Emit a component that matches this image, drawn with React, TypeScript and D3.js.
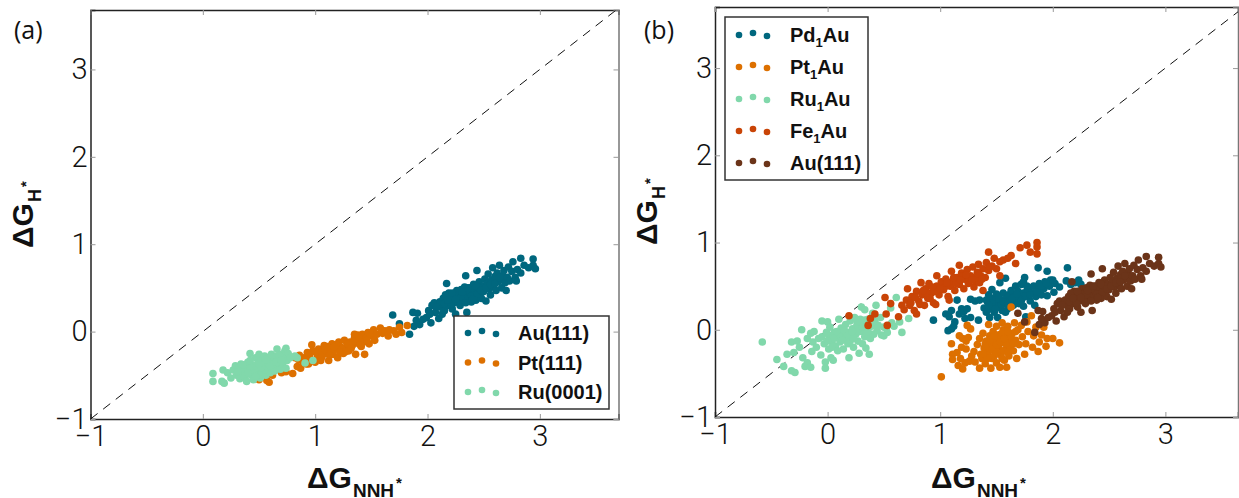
import React, { useEffect, useRef } from 'react';
import * as d3 from 'd3';

type Pt = [number, number];

const xTicks = [-1, 0, 1, 2, 3];
const yTicks = [-1, 0, 1, 2, 3];

const au111: Pt[] = [
  [1.69,.19],[1.75,.09],[1.84,-.03],[1.87,.22],[1.91,.21],[1.88,.06],[1.93,.08],[1.9,.13],[1.96,.14],[2.03,.1],[1.99,.16],[2.01,.24],[2.04,.3],
  [2.07,.22],[2.1,.15],[2.12,.28],[2.06,.33],[2.11,.34],[2.15,.24],[2.17,.55],[2.18,.3],[2.14,.38],[2.2,.36],[2.19,.44],[2.22,.26],[2.23,.4],
  [2.24,.33],[2.26,.47],[2.27,.38],[2.25,.2],[2.28,.43],[2.29,.3],[2.3,.48],[2.31,.36],[2.32,.42],[2.33,.51],[2.34,.64],[2.35,.22],[2.36,.44],
  [2.37,.38],[2.38,.5],[2.39,.34],[2.4,.46],[2.41,.54],[2.42,.42],[2.43,.36],[2.44,.7],[2.45,.49],[2.46,.57],[2.47,.44],[2.48,.38],[2.49,.52],
  [2.5,.46],[2.51,.6],[2.52,.35],[2.53,.55],[2.54,.66],[2.55,.49],[2.56,.42],[2.57,.59],[2.58,.73],[2.59,.52],[2.6,.63],[2.61,.47],[2.62,.67],
  [2.63,.57],[2.64,.76],[2.65,.6],[2.66,.5],[2.67,.64],[2.68,.7],[2.69,.56],[2.7,.47],[2.71,.62],[2.72,.74],[2.73,.58],[2.75,.69],[2.76,.8],
  [2.78,.62],[2.8,.71],[2.79,.58],[2.83,.84],[2.83,.67],[2.86,.76],[2.9,.73],[2.94,.83],[2.94,.76],[2.96,.72],[2.15,.32],[2.21,.31],[2.28,.35],
  [2.33,.39],[2.37,.45],[2.42,.48],[2.26,.41],[2.3,.4],[2.35,.47],[2.39,.41],[2.44,.43],[2.34,.33],[2.46,.5],[2.16,.42],[2.08,.28],[2.02,.2],
  [2.13,.2],[2.18,.36],[2.22,.44],[2.25,.37],[2.31,.45],[2.36,.5],[2.4,.37],[2.43,.52],[2.48,.47],[2.52,.5],[2.56,.54],[2.6,.55],[2.64,.62],
];

const pt111: Pt[] = [
  [.5,-.55],[.59,-.58],[.57,-.56],[.62,-.5],[.7,-.47],[.74,-.46],[.8,-.48],[.84,-.4],[.87,-.42],[.82,-.3],[.85,-.32],[.9,-.3],[.92,-.37],[.95,-.28],
  [.97,-.15],[.98,-.22],[1,-.35],[1.02,-.28],[1.03,-.2],[1.05,-.33],[1.07,-.26],[1.08,-.16],[1.1,-.25],[1.12,-.33],[1.13,-.2],[1.15,-.14],[1.16,-.26],
  [1.18,-.2],[1.2,-.3],[1.21,-.12],[1.23,-.18],[1.25,-.25],[1.26,-.1],[1.28,-.17],[1.3,-.22],[1.31,-.12],[1.33,-.16],[1.35,-.07],[1.36,-.26],[1.37,-.13],
  [1.38,-.04],[1.4,-.1],[1.41,-.17],[1.42,-.03],[1.44,-.26],[1.45,-.08],[1.47,-.01],[1.48,-.14],[1.5,-.05],[1.52,.02],[1.53,-.1],[1.55,-.03],[1.58,.04],
  [1.6,-.02],[1.62,.01],[1.65,-.05],[1.66,.02],[1.7,.01],[1.72,-.03],[1.75,.05],[1.77,-.01],[1.82,.07],[1.04,-.24],[1.09,-.21],[1.14,-.22],[1.19,-.15],
  [1.24,-.2],[1.29,-.14],[1.34,-.11],[1.39,-.06],[1.43,-.12],[.93,-.24],[.89,-.35],[.96,-.33],[1.11,-.17],[1.27,-.23],[1.17,-.17],
  [.86,-.27],[.91,-.33],[.94,-.37],[1,-.23],[1.06,-.29],[1.13,-.27],[1.22,-.24],[1.32,-.19],[1.4,-.15],[1.46,-.1],[1.35,-.03],
];

const ru0001: Pt[] = [
  [.09,-.48],[.09,-.57],[.17,-.57],[.19,-.59],[.18,-.44],[.22,-.47],[.25,-.53],[.27,-.44],[.29,-.39],[.3,-.5],[.32,-.42],[.33,-.54],[.34,-.37],[.35,-.47],
  [.37,-.52],[.38,-.41],[.39,-.57],[.4,-.35],[.41,-.46],[.42,-.25],[.43,-.5],[.44,-.38],[.45,-.55],[.46,-.42],[.47,-.3],[.48,-.48],[.49,-.36],[.5,-.26],
  [.5,-.43],[.51,-.53],[.52,-.33],[.53,-.46],[.54,-.39],[.55,-.28],[.56,-.5],[.57,-.36],[.58,-.43],[.59,-.31],[.6,-.47],[.61,-.26],[.62,-.4],[.63,-.34],
  [.64,-.45],[.65,-.28],[.66,-.2],[.67,-.38],[.68,-.32],[.69,-.43],[.7,-.26],[.71,-.37],[.72,-.3],[.73,-.22],[.74,-.19],[.74,-.42],[.75,-.33],[.76,-.25],
  [.82,-.28],[.84,-.3],[.91,-.36],[.98,-.33],[.36,-.44],[.43,-.41],[.48,-.41],[.53,-.37],[.58,-.36],[.63,-.37],[.68,-.27],[.55,-.44],[.45,-.47],[.4,-.47],
  [.31,-.46],[.36,-.38],[.42,-.33],[.47,-.51],[.52,-.41],[.6,-.39],[.65,-.35],[.7,-.33],[.56,-.32],[.5,-.37],[.78,-.3],
];

const pd1Au: Pt[] = [
  [.94,.11],[1.07,-.01],[1.1,.01],[1.13,.09],[1.12,.04],[1.05,.18],[1.08,.15],[1.1,.22],[1.15,.34],[1.19,.24],[1.17,.18],[1.21,.21],[1.24,.24],[1.27,.14],
  [1.22,.13],[1.34,.11],[1.27,.35],[1.31,.33],[1.35,.34],[1.39,.25],[1.41,.2],[1.42,.32],[1.43,.4],[1.44,.14],[1.45,.28],[1.46,.46],[1.47,.36],[1.48,.2],
  [1.49,.3],[1.5,.41],[1.51,.14],[1.52,.26],[1.53,.54],[1.54,.34],[1.55,.22],[1.56,.42],[1.57,.3],[1.58,.59],[1.59,.36],[1.6,.24],[1.61,.4],[1.62,.33],
  [1.63,.45],[1.65,.28],[1.66,.38],[1.67,.5],[1.68,.34],[1.69,.44],[1.7,.3],[1.71,.4],[1.72,.52],[1.73,.36],[1.74,.27],[1.75,.6],[1.76,.15],[1.77,.44],
  [1.78,.38],[1.79,.48],[1.8,.33],[1.82,.42],[1.83,.5],[1.84,.28],[1.85,.38],[1.87,.71],[1.87,.46],[1.88,.53],[1.9,.4],[1.92,.47],[1.93,.55],[1.95,.67],
  [1.95,.39],[1.97,.5],[1.98,.57],[2,.57],[2.01,.43],[2.02,.53],[2.06,.49],[2.12,.56],[2.13,.71],[2.16,.52],[2.2,.54],[2.23,.57],[2.25,.52],[1.58,.2],
  [1.44,.24],[1.5,.35],[1.54,.28],[1.47,.26],[1.41,.34],[1.62,.3],[1.74,.42],[1.78,.43],
  [1.46,.31],[1.52,.37],[1.56,.32],[1.6,.3],[1.64,.36],[1.68,.41],[1.72,.33],[1.76,.39],[1.8,.4],[1.86,.43],[1.9,.5],[1.94,.53],[1.43,.28],[1.49,.24],[1.77,.5],[1.74,.55],
];

const pt1Au: Pt[] = [
  [1.01,-.54],[1.1,-.16],[1.24,.05],[1.27,.01],[1.17,-.07],[1.2,-.1],[1.23,-.13],[1.25,-.09],[1.19,-.2],[1.23,-.22],[1.11,-.28],[1.15,-.26],[1.11,-.34],
  [1.18,-.33],[1.16,-.41],[1.2,-.45],[1.22,-.38],[1.26,-.36],[1.28,-.3],[1.3,-.25],[1.31,-.37],[1.33,-.17],[1.35,-.44],[1.35,-.1],[1.36,-.28],[1.37,-.33],
  [1.38,-.04],[1.39,-.21],[1.4,-.39],[1.41,-.13],[1.42,-.27],[1.43,.06],[1.44,-.07],[1.45,-.44],[1.45,-.18],[1.46,-.33],[1.47,-.02],[1.48,-.24],[1.49,-.12],
  [1.5,.04],[1.5,-.38],[1.51,-.06],[1.52,-.2],[1.53,-.43],[1.54,-.29],[1.55,-.14],[1.55,.08],[1.56,0],[1.57,-.35],[1.58,-.08],[1.59,-.43],[1.59,-.22],
  [1.6,.04],[1.61,-.3],[1.62,-.13],[1.63,.26],[1.64,-.04],[1.65,-.24],[1.66,.08],[1.67,-.12],[1.68,-.33],[1.69,0],[1.7,-.17],[1.72,.05],[1.73,-.08],
  [1.75,-.28],[1.76,-.16],[1.77,.09],[1.78,-.02],[1.81,.16],[1.82,-.2],[1.83,-.07],[1.85,.03],[1.87,-.25],[1.88,-.14],[1.9,-.06],[1.94,-.19],[1.95,-.1],
  [2,-.1],[2.06,-.15],[1.92,.03],[1.6,-.15],[1.52,-.09],[1.47,-.14],[1.56,-.24],[1.48,-.3],[1.62,-.21],[1.43,-.21],[1.54,-.05],[1.58,-.16],[1.5,-.18],
  [1.4,-.16],[1.44,-.12],[1.46,-.23],[1.5,-.26],[1.53,-.14],[1.55,-.33],[1.57,-.1],[1.6,-.26],[1.63,-.07],[1.65,-.16],[1.42,-.33],[1.38,-.28],[1.48,-.07],[1.56,-.02],[1.6,-.02],[1.67,-.02],
];

const ru1Au: Pt[] = [
  [-.58,-.14],[-.45,-.34],[-.39,-.42],[-.32,-.47],[-.29,-.49],[-.36,-.28],[-.3,-.26],[-.32,-.14],[-.27,-.13],[-.25,-.2],[-.22,-.32],[-.2,-.42],[-.23,0],
  [-.18,-.38],[-.15,-.43],[-.18,-.1],[-.15,-.04],[-.14,-.25],[-.13,-.14],[-.12,-.02],[-.1,-.2],[-.08,-.1],[-.05,.1],[-.06,-.29],[-.03,-.16],[-.02,-.44],
  [-.02,-.37],[0,.09],[.01,-.22],[.01,-.06],[.02,.03],[.03,-.32],[.04,-.14],[.05,-.35],[.06,-.03],[.07,-.19],[.08,-.09],[.1,.12],[.11,-.14],[.12,.02],
  [.13,-.04],[.14,-.22],[.15,-.11],[.16,.06],[.17,-.03],[.18,-.16],[.19,-.32],[.2,.1],[.21,-.08],[.22,.01],[.23,-.2],[.24,.14],[.25,-.05],[.26,.05],
  [.27,-.13],[.28,-.27],[.29,.12],[.3,.26],[.3,-.02],[.31,-.16],[.32,.07],[.33,.23],[.33,-.08],[.34,-.21],[.35,.02],[.36,.12],[.37,-.28],[.38,-.1],
  [.39,.04],[.4,.19],[.41,-.05],[.42,.1],[.43,.28],[.44,-.01],[.45,.05],[.47,.14],[.48,-.06],[.5,.03],[.5,-.07],[.52,.02],[.53,-.03],[.56,.25],[.57,.08],
  [.59,.04],[.61,.37],[.64,.09],[.66,-.03],[.72,.13],[.1,-.05],[.05,-.1],[.15,-.01],[.2,-.13],[.28,-.02],[.35,-.05],
  [-.05,-.08],[0,-.13],[.04,-.2],[.09,-.24],[.13,-.12],[.18,-.06],[.23,-.1],[.27,.01],[.31,.03],[.36,-.02],[.4,.08],[.22,-.02],[.08,-.02],[-.01,-.03],[.33,.11],[.26,.1],
];

const fe1Au: Pt[] = [
  [.19,.16],[.36,.05],[.38,.13],[.42,.18],[.51,.37],[.52,.18],[.53,.05],[.56,.3],[.63,.15],[.66,.28],[.68,.23],[.7,.34],[.71,.47],[.73,.28],[.75,.38],
  [.77,.22],[.79,.18],[.79,.44],[.81,.33],[.83,.54],[.84,.4],[.86,.28],[.87,.47],[.89,.36],[.9,.53],[.92,.42],[.94,.31],[.96,.29],[.97,.62],[.97,.5],
  [.99,.4],[1.01,.55],[1.03,.46],[1.05,.58],[1.07,.38],[1.08,.34],[1.09,.5],[1.1,.67],[1.11,.56],[1.13,.45],[1.15,.6],[1.17,.74],[1.17,.52],[1.19,.65],
  [1.21,.47],[1.22,.58],[1.24,.69],[1.25,.53],[1.27,.62],[1.29,.72],[1.3,.49],[1.31,.56],[1.33,.66],[1.34,.75],[1.35,.54],[1.36,.62],[1.38,.45],[1.38,.7],
  [1.4,.6],[1.41,.77],[1.43,.89],[1.43,.68],[1.46,.73],[1.48,.82],[1.5,.7],[1.53,.62],[1.53,.78],[1.56,.8],[1.6,.82],[1.63,.85],[1.67,.76],[1.71,.94],
  [1.77,.97],[1.8,.89],[1.86,1],[1.86,.95],[1.86,.87],[.95,.44],[1.05,.5],[1.14,.53],[1.26,.57],[1.32,.6],[1.2,.62],[1.02,.48],[.88,.42],
  [.74,.31],[.78,.37],[.82,.29],[.85,.45],[.91,.36],[.93,.49],[1,.47],[1.06,.54],[1.12,.6],[1.18,.57],[1.23,.63],[1.28,.57],[1.34,.64],[1.37,.58],[1.44,.72],
];

const seriesA = [
  { name: 'Au(111)', color: '#00677e', points: au111 },
  { name: 'Pt(111)', color: '#dd7000', points: pt111 },
  { name: 'Ru(0001)', color: '#81d8ab', points: ru0001 },
];

const seriesB = [
  { name: 'Pd', sub: '1', rest: 'Au', color: '#00677e', points: pd1Au },
  { name: 'Pt', sub: '1', rest: 'Au', color: '#dd7000', points: pt1Au },
  { name: 'Ru', sub: '1', rest: 'Au', color: '#81d8ab', points: ru1Au },
  { name: 'Fe', sub: '1', rest: 'Au', color: '#c94406', points: fe1Au },
  { name: 'Au(111)', sub: '', rest: '', color: '#6b3419', points: au111 },
];

const tickText = d3.format('d');

const drawPanel = (svg: any, box: any, series: any[]) => {
  const x = d3.scaleLinear().domain([-1, box.xMax]).range([box.left, box.right]);
  const y = d3.scaleLinear().domain([-1, box.yMax]).range([box.bottom, box.top]);

  const axes = [
    d3.axisBottom(x).tickValues(xTicks).tickSize(-5).tickPadding(6).tickFormat(d => tickText(d).replace('-', '\u2212')),
    d3.axisLeft(y).tickValues(yTicks).tickSize(-5).tickPadding(3).tickFormat(d => tickText(d).replace('-', '\u2212')),
    d3.axisTop(x).tickValues(xTicks).tickSize(-5).tickFormat(() => ''),
    d3.axisRight(y).tickValues(yTicks).tickSize(-5).tickFormat(() => ''),
  ];
  const shifts = [
    `translate(0,${box.bottom})`,
    `translate(${box.left},0)`,
    `translate(0,${box.top})`,
    `translate(${box.right},0)`,
  ];
  axes.forEach((axis, i) => {
    const g = svg.append('g').attr('transform', shifts[i]).call(axis);
    g.select('.domain').attr('stroke', i === 3 ? '#777' : '#222').attr('stroke-width', 1.5);
    g.selectAll('line').attr('stroke', '#999');
    g.selectAll('text')
      .style('font-family', 'Roboto, Liberation Sans, sans-serif')
      .style('font-weight', 300)
      .style('font-size', '29px')
      .attr('fill', '#111');
  });

  svg.append('line')
    .attr('x1', x(-1)).attr('y1', y(-1))
    .attr('x2', x(Math.min(box.xMax, box.yMax))).attr('y2', y(Math.min(box.xMax, box.yMax)))
    .attr('stroke', '#111')
    .attr('stroke-dasharray', '9,7');

  series.forEach(s => {
    svg.append('g').selectAll('circle')
      .data(s.points)
      .enter()
      .append('circle')
      .attr('cx', (d: Pt) => x(d[0]))
      .attr('cy', (d: Pt) => y(d[1]))
      .attr('r', 3.8)
      .attr('fill', s.color);
  });
};

const drawLegend = (svg: any, box: any, series: any[]) => {
  svg.append('rect')
    .attr('x', box.x).attr('y', box.y)
    .attr('width', box.w).attr('height', box.h)
    .attr('fill', '#fff')
    .attr('stroke', '#333')
    .attr('stroke-width', 1.5);

  series.forEach((s, i) => {
    const cy = box.first + i * box.step;
    [[0, 1], [14, -1], [28, 2]].forEach(([dx, dy]) => {
      svg.append('circle')
        .attr('cx', box.x + box.dot + dx)
        .attr('cy', cy + dy)
        .attr('r', 3.3)
        .attr('fill', s.color);
    });
    const t = svg.append('text')
      .attr('x', box.text)
      .attr('y', cy + 8)
      .style('font-family', 'Liberation Sans, sans-serif')
      .style('font-weight', 700)
      .style('font-size', '20px')
      .attr('fill', '#111');
    t.append('tspan').text(s.name);
    if (s.sub) {
      t.append('tspan').attr('dy', 5).style('font-size', '13px').text(s.sub);
      t.append('tspan').attr('dy', -5).text(s.rest);
    }
  });
};

const addLabel = (svg: any, lx: number, ly: number, sub: string, rotate: boolean) => {
  const t = svg.append('text')
    .attr('transform', `translate(${lx},${ly})${rotate ? ' rotate(-90)' : ''}`)
    .style('font-family', 'Liberation Sans, sans-serif')
    .style('font-weight', 700)
    .style('font-size', '30px')
    .attr('fill', '#111');
  t.append('tspan').text('ΔG');
  t.append('tspan').attr('dx', 1).attr('dy', rotate ? 8 : 9).style('font-size', rotate ? '18px' : '19px').text(sub);
  t.append('tspan').attr('dx', 2).attr('dy', rotate ? -10 : -9).style('font-size', '15px').text('*');
};

const App = () => {
  const ref = useRef<SVGSVGElement>(null);

  useEffect(() => {
    if (!ref.current) return;
    const svg = d3.select(ref.current);
    svg.selectAll('*').remove();

    drawPanel(svg, { left: 90.5, right: 618.5, top: 10, bottom: 419, xMax: 3.7, yMax: 3.68 }, seriesA);
    drawPanel(svg, { left: 715, right: 1238, top: 7, bottom: 417, xMax: 3.645, yMax: 3.7 }, seriesB);

    drawLegend(svg, { x: 454, y: 316, w: 155, h: 93, first: 332, step: 29.5, dot: 14, text: 518 }, seriesA);
    drawLegend(svg, { x: 725, y: 17, w: 143, h: 163, first: 34, step: 32, dot: 14, text: 790 }, seriesB);

    addLabel(svg, 307, 488, 'NNH', false);
    addLabel(svg, 931, 488, 'NNH', false);
    addLabel(svg, 33, 248, 'H', true);
    addLabel(svg, 657, 245, 'H', true);

    [['(a)', 14], ['(b)', 644]].forEach(([label, lx]) => {
      svg.append('text')
        .attr('x', lx)
        .attr('y', 39)
        .style('font-family', 'Open Sans, sans-serif')
        .style('font-size', '25px')
        .attr('fill', '#111')
        .text(label as string);
    });
  }, []);

  return (
    <svg
      ref={ref}
      width={1239}
      height={498}
      style={{ position: 'absolute', left: 0, top: 0, background: '#fff' }}
    />
  );
};

export default App;
